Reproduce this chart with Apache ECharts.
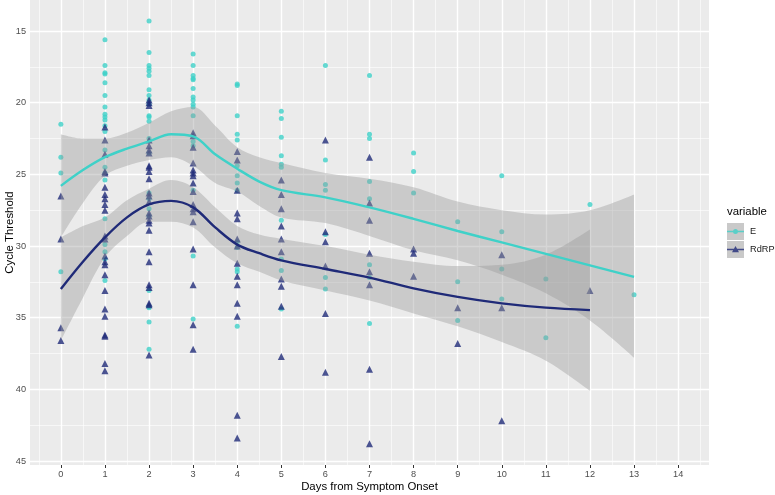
<!DOCTYPE html>
<html>
<head>
<meta charset="utf-8">
<script src="https://cdn.jsdelivr.net/npm/echarts@6.0.0/dist/echarts.min.js"></script>
<style>
html,body{margin:0;padding:0;background:#fff;}
#chart{width:775px;height:495px;}
</style>
</head>
<body>
<div id="chart"></div>
<script>
// ---- Data ----
const days = [0,1,2,3,4,5,6,7,8,9,10,11,12,13];

// Cycle threshold values of the E gene, by day
const eByDay = [
  [21.5, 23.8, 24.9, 31.8],
  [15.6, 17.4, 17.9, 18.0, 18.6, 19.5, 20.3, 20.8, 21.0, 21.2, 21.6, 22.0, 23.3, 24.5, 24.9, 25.4, 28.1, 29.9, 30.4, 30.9, 32.4],
  [14.3, 16.5, 17.4, 17.6, 17.8, 18.1, 19.1, 19.5, 19.8, 20.1, 20.9, 21.0, 21.3, 22.5, 23.5, 26.3, 26.7, 27.4, 27.9, 33.1, 34.2, 34.3, 35.3, 37.2],
  [16.6, 17.4, 18.1, 18.3, 18.4, 19.0, 19.6, 19.8, 20.1, 20.3, 20.9, 22.7, 23.0, 26.1, 30.7, 35.1],
  [18.7, 18.8, 20.9, 22.2, 22.6, 24.4, 25.1, 25.6, 26.1, 29.7, 30.1, 31.6, 31.8, 35.6],
  [20.6, 21.1, 22.4, 23.7, 24.3, 24.5, 28.2, 30.9, 31.7, 34.4],
  [17.4, 24.0, 25.7, 26.1, 29.2, 32.2, 33.0],
  [18.1, 22.2, 22.5, 25.5, 26.7, 31.3, 32.2, 35.4],
  [23.5, 24.8, 26.3],
  [28.3, 32.5, 35.2],
  [25.1, 29.0, 31.6, 33.7],
  [32.3, 36.4],
  [27.1],
  [33.4]
];

// Cycle threshold values of the RdRP gene, by day
const rdrpByDay = [
  [26.5, 29.5, 35.7, 36.6],
  [21.7, 22.6, 23.6, 24.8, 24.9, 25.9, 26.4, 26.7, 27.1, 27.5, 29.3, 29.5, 30.7, 31.1, 31.3, 32.0, 33.1, 34.4, 34.9, 36.2, 36.3, 38.2, 38.7],
  [19.8, 20.0, 20.2, 22.6, 23.0, 23.3, 23.5, 24.4, 24.5, 24.8, 25.3, 26.3, 26.5, 26.9, 27.7, 27.9, 28.2, 28.4, 28.9, 30.4, 31.1, 32.7, 32.9, 34.0, 34.1, 37.6],
  [22.1, 22.3, 23.1, 24.2, 24.7, 24.9, 25.1, 25.6, 26.2, 27.1, 27.4, 27.6, 28.3, 30.2, 32.7, 35.5, 37.2],
  [23.4, 24.0, 26.1, 27.7, 28.1, 29.5, 30.0, 31.2, 32.1, 32.7, 34.0, 34.9, 41.8, 43.4],
  [25.4, 26.4, 27.4, 28.6, 29.5, 30.4, 32.3, 32.8, 34.2, 37.7],
  [22.6, 29.0, 29.7, 31.4, 34.7, 38.8],
  [23.8, 27.0, 28.2, 30.5, 31.8, 32.7, 38.6, 43.8],
  [30.2, 30.5, 32.1],
  [34.3, 36.8],
  [30.6, 34.3, 42.2],
  [],
  [33.1],
  []
];

// Smoothed fits and their confidence bands
const eFitX   = [0, 0.5, 1, 1.5, 2, 2.5, 3, 3.5, 4, 4.5, 5, 6, 7, 8, 9, 10, 11, 12, 13];
const eFit    = [25.8, 24.7, 23.8, 23.2, 22.7, 22.2, 22.35, 23.6, 24.6, 25.5, 26.1, 26.6, 27.3, 28.1, 28.95, 29.75, 30.55, 31.35, 32.15];
const eBandLo = [22.2, 22.5, 22.5, 22.1, 21.4, 20.6, 20.3, 21.6, 23.1, 23.8, 24.2, 24.9, 25.3, 25.9, 26.9, 27.5, 27.8, 27.5, 26.4];
const eBandHi = [29.4, 27.0, 25.1, 24.4, 24.0, 23.8, 24.4, 25.6, 26.2, 27.2, 28.0, 28.4, 29.3, 30.3, 31.0, 32.0, 33.3, 35.2, 37.8];

const rFitX   = [0, 0.5, 1, 1.5, 2, 2.5, 3, 3.5, 4, 4.5, 5, 6, 7, 8, 9, 10, 11, 12];
const rFit    = [33.0, 31.1, 29.4, 28.0, 27.1, 26.85, 27.3, 28.7, 29.9, 30.5, 31.0, 31.6, 32.2, 32.95, 33.55, 34.0, 34.3, 34.47];
const rBandLo = [29.4, 28.6, 28.0, 26.8, 26.0, 25.4, 25.9, 27.3, 28.6, 29.2, 29.5, 30.0, 30.6, 31.1, 31.4, 31.3, 30.6, 28.85];
const rBandHi = [36.6, 33.6, 30.8, 29.3, 28.3, 28.3, 28.7, 30.1, 31.2, 31.8, 32.4, 33.1, 33.8, 34.7, 35.6, 36.7, 38.0, 40.1];

// Axis ticks
const xTicks = [0,1,2,3,4,5,6,7,8,9,10,11,12,13,14];
const xMinorTicks = [-0.5,0.5,1.5,2.5,3.5,4.5,5.5,6.5,7.5,8.5,9.5,10.5,11.5,12.5,13.5,14.5];
const yTicks = [15,20,25,30,35,40,45];
const yMinorTicks = [17.5,22.5,27.5,32.5,37.5,42.5];

// ---- Build ----
const FONT = 'Liberation Sans, Arial, sans-serif';
const CYAN = '#3FD1C8';
const NAVY = '#1F2A78';
const BAND = 'rgba(153,153,153,0.4)';

const toPoints = (byDay) => byDay.flatMap((vals, i) => vals.map(v => [days[i], v]));
const eData = toPoints(eByDay);
const rData = toPoints(rdrpByDay);

const gridLines = [
  ...xTicks.map(v => ({xAxis: v, lineStyle: {color: '#fff', width: 1.4, type: 'solid'}})),
  ...xMinorTicks.map(v => ({xAxis: v, lineStyle: {color: '#fff', width: 0.6, type: 'solid'}})),
  ...yTicks.map(v => ({yAxis: v, lineStyle: {color: '#fff', width: 1.4, type: 'solid'}})),
  ...yMinorTicks.map(v => ({yAxis: v, lineStyle: {color: '#fff', width: 0.6, type: 'solid'}}))
];

// Band: stacked on the y value (column 0 holds the y value so it is the stacked dimension)
function bandSeries(id, xs, lo, hi) {
  return [
    {
      type: 'line', name: id + ' base', stack: id, silent: true,
      data: xs.map((x, i) => [lo[i], x]), encode: {x: 1, y: 0},
      symbol: 'none', smooth: 0.35, lineStyle: {opacity: 0, width: 0}, z: 4
    },
    {
      type: 'line', name: id + ' band', stack: id, silent: true,
      data: xs.map((x, i) => [hi[i] - lo[i], x]), encode: {x: 1, y: 0},
      symbol: 'none', smooth: 0.35, lineStyle: {opacity: 0, width: 0},
      areaStyle: {color: BAND, opacity: 1}, z: 4
    }
  ];
}

const iconE = 'path://M0 0M0 7.7h17v1.6H0zM6 8.5a2.5 2.5 0 1 1 5 0a2.5 2.5 0 1 1 -5 0zM17 17';
const iconR = 'path://M0 0M0 7.7h17v1.6H0zM8.5 5L12 11.3H5zM17 17';

const chart = echarts.init(document.getElementById('chart'), null, {renderer: 'canvas'});
chart.setOption({
  animation: false,
  backgroundColor: '#ffffff',
  textStyle: {fontFamily: FONT},
  grid: {left: 30, right: 66, top: 0, bottom: 30, show: true, backgroundColor: '#EBEBEB', borderWidth: 0,
         containLabel: false, outerBoundsMode: 'none'},
  xAxis: {
    type: 'value', min: -0.7, max: 14.7,
    name: 'Days from Symptom Onset', nameLocation: 'middle', nameGap: 16, nameMoveOverlap: false,
    nameTextStyle: {fontSize: 11.4, color: '#000', fontFamily: FONT},
    axisLine: {show: false},
    axisTick: {show: true, length: 3, lineStyle: {color: '#333', width: 1}, customValues: xTicks},
    axisLabel: {customValues: xTicks, fontSize: 9.2, color: '#4D4D4D', margin: 5, fontFamily: FONT},
    splitLine: {show: false}
  },
  yAxis: {
    type: 'value', inverse: true, min: 12.83, max: 45.28,
    name: 'Cycle Threshold', nameLocation: 'middle', nameGap: 20, nameRotate: 90, nameMoveOverlap: false,
    nameTextStyle: {fontSize: 11.4, color: '#000', fontFamily: FONT, verticalAlign: 'middle'},
    axisLine: {show: false},
    axisTick: {show: true, length: 3, lineStyle: {color: '#333', width: 1}, customValues: yTicks},
    axisLabel: {customValues: yTicks, fontSize: 9.2, color: '#4D4D4D', margin: 4, fontFamily: FONT},
    splitLine: {show: false}
  },
  legend: {
    orient: 'vertical', left: 727, top: 223, padding: 0,
    itemWidth: 17, itemHeight: 17, itemGap: 1, selectedMode: false,
    textStyle: {fontSize: 9.2, color: '#1a1a1a', fontFamily: FONT, padding: [0, 0, 0, 1]},
    data: [{name: 'E', icon: iconE}, {name: 'RdRP', icon: iconR}]
  },
  graphic: [
    {type: 'rect', left: 727, top: 223, z: 0, shape: {width: 17, height: 17}, style: {fill: '#C9C9C9'}},
    {type: 'rect', left: 727, top: 241, z: 0, shape: {width: 17, height: 17}, style: {fill: '#C9C9C9'}},
    {type: 'text', left: 727, top: 206, z: 0, style: {text: 'variable', fontSize: 11.4, fill: '#000', fontFamily: FONT}}
  ],
  series: [
    {
      type: 'line', name: 'gridlines', data: [], silent: true, z: 1,
      markLine: {silent: true, z: 1, symbol: ['none', 'none'], label: {show: false}, animation: false, data: gridLines}
    },
    {
      type: 'scatter', name: 'E', data: eData, symbol: 'circle', symbolSize: 5,
      itemStyle: {color: CYAN}, z: 2
    },
    {
      type: 'scatter', name: 'RdRP', data: rData, symbol: 'triangle', symbolSize: 7,
      itemStyle: {color: NAVY}, z: 3
    },
    ...bandSeries('eBand', eFitX, eBandLo, eBandHi),
    ...bandSeries('rBand', rFitX, rBandLo, rBandHi),
    {
      type: 'line', name: 'E fit', data: eFitX.map((x, i) => [x, eFit[i]]),
      symbol: 'none', smooth: 0.35, lineStyle: {color: CYAN, width: 2.4}, z: 5, silent: true
    },
    {
      type: 'line', name: 'RdRP fit', data: rFitX.map((x, i) => [x, rFit[i]]),
      symbol: 'none', smooth: 0.35, lineStyle: {color: NAVY, width: 2.4}, z: 5, silent: true
    }
  ]
});
</script>
</body>
</html>
